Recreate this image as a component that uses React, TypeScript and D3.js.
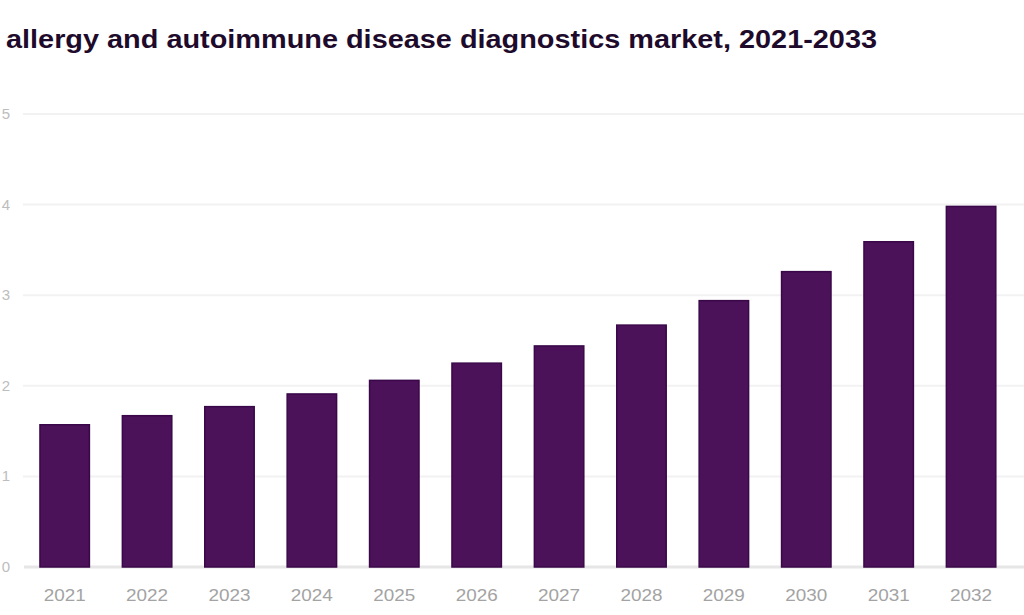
import React from "react";
import * as d3 from "d3";

const title = "allergy and autoimmune disease diagnostics market, 2021-2033";
const years = ["2021", "2022", "2023", "2024", "2025", "2026", "2027", "2028", "2029", "2030", "2031", "2032"];
const values = [1.57, 1.67, 1.77, 1.91, 2.06, 2.25, 2.44, 2.67, 2.94, 3.26, 3.59, 3.98];
const yTicks = [0, 1, 2, 3, 4, 5];

const W = 1024;
const H = 615;

export default function App() {
  const step = 82.4;
  const x0 = 7;
  const x = d3
    .scaleBand<string>()
    .domain(years)
    .range([x0, x0 + step * (years.length + 0.4)])
    .paddingInner(0.4)
    .paddingOuter(0.4);
  const y = d3.scaleLinear().domain([0, 5]).range([567, 114]);

  return (
    <svg
      width={W}
      height={H}
      style={{ position: "absolute", left: 0, top: 0, background: "#fff" }}
      fontFamily="'Liberation Sans', Arial, sans-serif"
    >
      <rect x={0} y={0} width={W} height={H} fill="#ffffff" />
      <text
        x={6}
        y={48}
        fontSize={25}
        fontWeight="bold"
        fill="#1e0b2c"
        textLength={871}
        lengthAdjust="spacingAndGlyphs"
      >
        {title}
      </text>
      {yTicks.map((t) => (
        <g key={t}>
          {t > 0 && (
            <line x1={23} x2={W} y1={y(t)} y2={y(t)} stroke="#f2f2f2" strokeWidth={2} />
          )}
          <text x={10} y={y(t) + 5} fontSize={15} fill="#bdbdbd" textAnchor="end">
            {t}
          </text>
        </g>
      ))}
      <line x1={24} x2={W} y1={y(0)} y2={y(0)} stroke="#e6e6e6" strokeWidth={3} />
      {years.map((yr, i) => (
        <rect
          key={yr}
          x={x(yr)}
          y={y(values[i])}
          width={x.bandwidth()}
          height={y(0) - y(values[i])}
          fill="#4b125a"
          stroke="#3a0849"
          strokeWidth={1.5}
        />
      ))}
      {years.map((yr) => (
        <text
          key={yr}
          x={(x(yr) as number) + x.bandwidth() / 2}
          y={601}
          fontSize={16}
          fill="#a3a3a3"
          textAnchor="middle"
          textLength={42}
          lengthAdjust="spacingAndGlyphs"
        >
          {yr}
        </text>
      ))}
    </svg>
  );
}
